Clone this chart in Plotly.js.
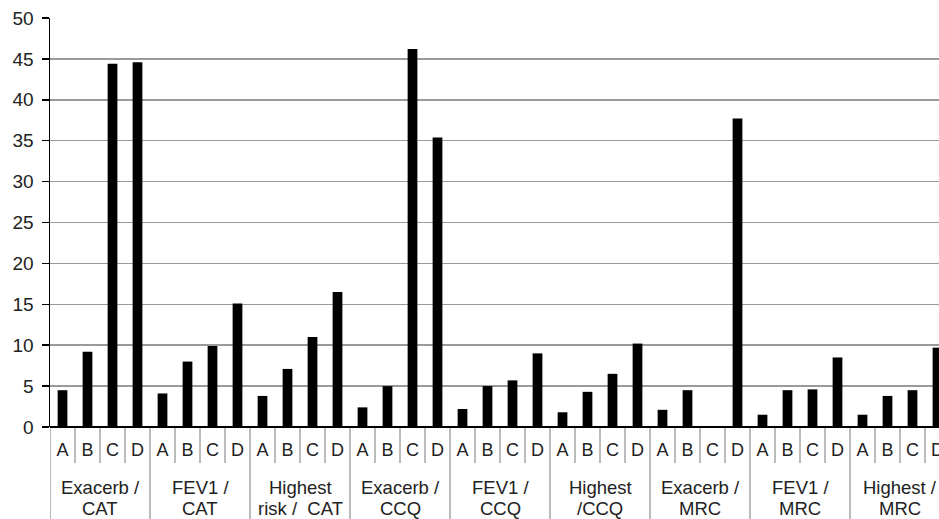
<!DOCTYPE html>
<html>
<head>
<meta charset="utf-8">
<script src="https://cdn.plot.ly/plotly-3.0.1.min.js"></script>
<style>
  html, body { margin: 0; padding: 0; overflow: hidden; background: #fff; }
  #chart { width: 950px; height: 519px; }
</style>
</head>
<body>
<div id="chart"></div>
<script>
const groups = ["Exacerb /<br>CAT", "FEV1 /<br>CAT", "Highest<br>risk /  CAT",
                "Exacerb /<br>CCQ", "FEV1 /<br>CCQ", "Highest<br>/CCQ",
                "Exacerb /<br>MRC", "FEV1 /<br>MRC", "Highest /<br>MRC"];
const letters = ["A", "B", "C", "D"];
const values = [
  4.5, 9.2, 44.4, 44.6,
  4.1, 8.0, 9.9, 15.1,
  3.8, 7.1, 11.0, 16.5,
  2.4, 5.0, 46.2, 35.4,
  2.2, 5.0, 5.7, 9.0,
  1.8, 4.3, 6.5, 10.2,
  2.1, 4.5, 0, 37.7,
  1.5, 4.5, 4.6, 8.5,
  1.5, 3.8, 4.5, 9.7
];
const yTicks = [0, 5, 10, 15, 20, 25, 30, 35, 40, 45, 50];

const ids = [];
const tickText = [];
groups.forEach((g, gi) => letters.forEach(l => { ids.push("g" + gi + "|" + l); tickText.push(l); }));

const plotH = 519 - 18 - 92;
const shapes = [];
const annotations = [];
for (let i = 0; i <= ids.length; i++) {
  const isGroup = (i % letters.length === 0);
  shapes.push({
    type: "line", xref: "x", yref: "paper",
    x0: i - 0.5, x1: i - 0.5,
    y0: 0, y1: isGroup ? -100 / plotH : -36 / plotH,
    line: { color: "#a6a6a6", width: 1.5 }, layer: "below"
  });
}
const lineShifts = [-60, -81];
groups.forEach((g, gi) => {
  g.split("<br>").forEach((line, li) => {
    annotations.push({
      x: gi * letters.length + (letters.length - 1) / 2, xref: "x",
      y: 0, yref: "paper", yanchor: "middle", yshift: lineShifts[li],
      text: line.replace(/  /g, "&nbsp; "), showarrow: false,
      font: { family: "Liberation Sans, Arial, sans-serif", size: 18.5, color: "#222" }
    });
  });
});

Plotly.newPlot("chart", [{
  type: "bar", x: ids, y: values,
  marker: { color: "#000" },
  hoverinfo: "skip"
}], {
  width: 950, height: 519,
  margin: { l: 50, r: 0, t: 18, b: 92 },
  paper_bgcolor: "#fff", plot_bgcolor: "#fff",
  bargap: 0.61,
  showlegend: false,
  xaxis: {
    type: "category", tickvals: ids, ticktext: tickText,
    showgrid: false, zeroline: false, showline: false, ticks: "",
    tickfont: { family: "Liberation Sans, Arial, sans-serif", size: 18, color: "#222" },
    ticklabelstandoff: 10,
    range: [-0.5, ids.length - 0.5]
  },
  yaxis: {
    range: [0, 50], tickvals: yTicks, ticks: "outside", ticklen: 7, tickwidth: 1.5, tickcolor: "#000",
    showline: true, linecolor: "#000", linewidth: 1.5,
    showgrid: true, gridcolor: "#9a9a9a", gridwidth: 1.5,
    zeroline: true, zerolinecolor: "#000", zerolinewidth: 2,
    tickfont: { family: "Liberation Sans, Arial, sans-serif", size: 19, color: "#222" },
    ticklabelstandoff: 4
  },
  shapes: shapes,
  annotations: annotations
}, { staticPlot: true });
</script>
</body>
</html>
